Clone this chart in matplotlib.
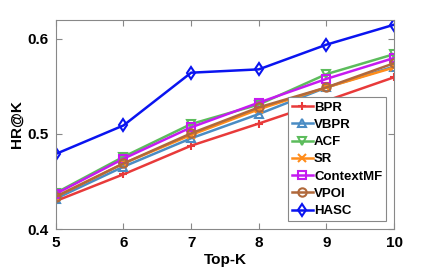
import matplotlib
matplotlib.use("Agg")
import matplotlib.pyplot as plt

plt.rcParams['font.family'] = ['Liberation Sans', 'DejaVu Sans']
plt.rcParams['font.weight'] = 'bold'

top_k = [5, 6, 7, 8, 9, 10]
bpr = [0.4295, 0.4576, 0.4877, 0.511, 0.535, 0.5597]
vbpr = [0.432, 0.4656, 0.4955, 0.521, 0.549, 0.571]
acf = [0.438, 0.476, 0.5105, 0.531, 0.563, 0.584]
sr = [0.434, 0.469, 0.499, 0.526, 0.549, 0.570]
contextmf = [0.437, 0.474, 0.507, 0.533, 0.558, 0.580]
vpoi = [0.434, 0.469, 0.5007, 0.528, 0.549, 0.5745]
hasc = [0.479, 0.509, 0.5645, 0.568, 0.594, 0.615]

series = [
    ("BPR", bpr, "#e83a3a", "+"),
    ("VBPR", vbpr, "#4a8cc4", "^"),
    ("ACF", acf, "#5cbc5c", "v"),
    ("SR", sr, "#ff8c1a", "x"),
    ("ContextMF", contextmf, "#c51bf0", "s"),
    ("VPOI", vpoi, "#b0683a", "o"),
    ("HASC", hasc, "#0a14f0", "d"),
]

fig = plt.figure(figsize=(4.36, 2.73), dpi=100)
ax = fig.add_axes([0.128, 0.161, 0.776, 0.766])

for name, vals, col, mk in series:
    ax.plot(top_k, vals, color=col, marker=mk, markersize=6,
            markerfacecolor='none', markeredgewidth=1.5,
            linewidth=1.8, label=name)

ax.set_xlim(5, 10)
ax.set_ylim(0.4, 0.62)
ax.set_xticks(top_k)
ax.set_yticks([0.4, 0.5, 0.6])
ax.set_yticklabels(["0.4", "0.5", "0.6"])
ax.tick_params(direction='in', top=True, right=True, labelsize=11,
               color='#888888', length=4, pad=5)
for s in ax.spines.values():
    s.set_color('#888888')
    s.set_linewidth(0.8)
ax.set_xlabel("Top-K", fontsize=11, fontweight='bold', labelpad=2)
ax.set_ylabel("HR@K", fontsize=11, fontweight='bold', labelpad=3)

leg = ax.legend(loc='lower right', fontsize=9.5, handlelength=1.6,
                handletextpad=0.1, labelspacing=0.38, borderpad=0.3,
                fancybox=False, framealpha=1, borderaxespad=0.6)
leg.get_frame().set_edgecolor('#888888')
leg.get_frame().set_linewidth(0.8)

fig.savefig("out.png", dpi=100)
